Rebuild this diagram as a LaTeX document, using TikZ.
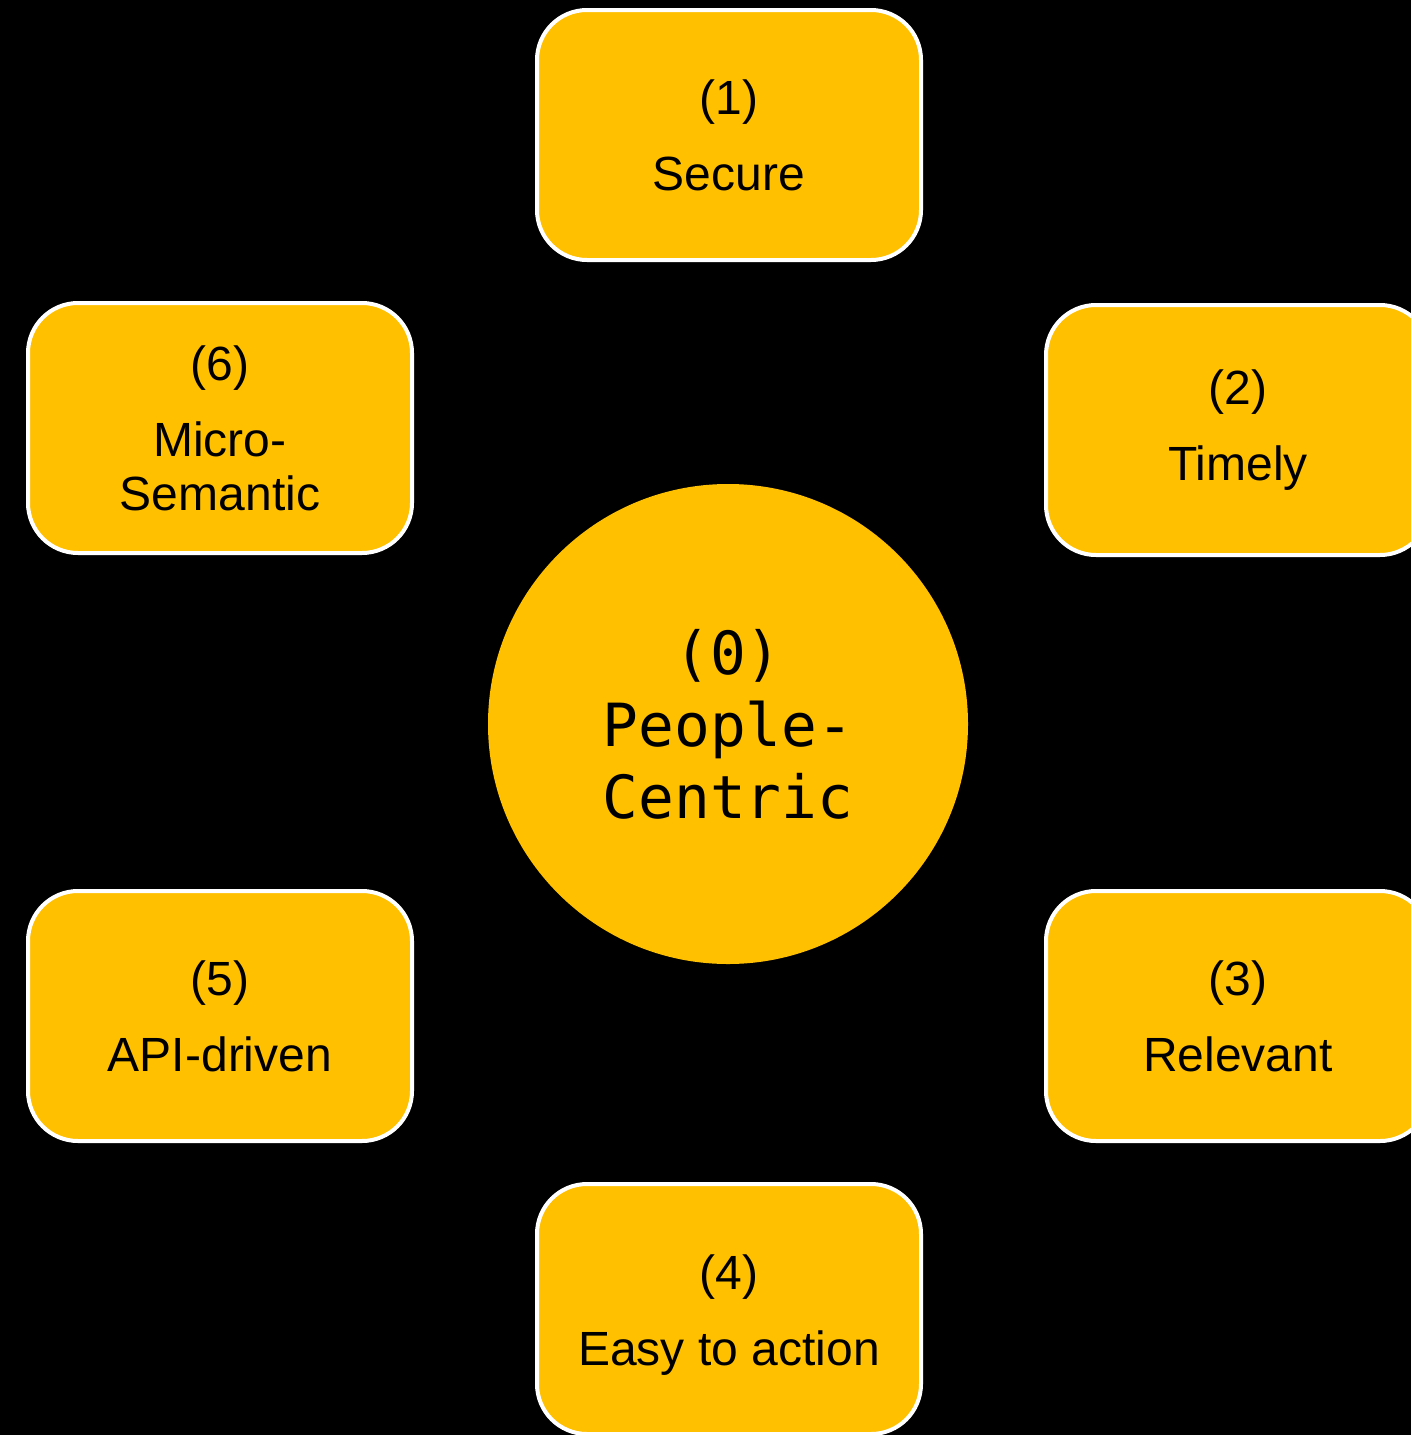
\documentclass[tikz,border=0pt]{standalone}
\usepackage{fontspec}
\setmainfont{Liberation Sans}
\newfontfamily\monof{DejaVu Sans Mono}
\definecolor{gold}{HTML}{FFC000}
\tikzset{
  x=1pt,y=-1pt,
  boxnode/.style={draw=white, line width=4pt, fill=gold, rounded corners=50pt,
    minimum width=384pt, minimum height=250pt, align=center, text=black,
    font=\fontsize{48}{54}\selectfont, inner sep=0pt},
  hub/.style={circle, fill=gold, minimum size=480pt, inner sep=0pt, align=center,
    text=black, font=\monof\fontsize{59.5}{72}\selectfont}
}
\begin{document}
\begin{tikzpicture}
\useasboundingbox (0,0) rectangle (1411,1435);
\clip (0,0) rectangle (1411,1435);
\fill[black] (0,0) rectangle (1411,1435);
\node[hub] (c0) at (728,724) {(0)\\People-\\Centric};
\node[boxnode] (b1) at (729,135) {(1)\\[22pt]Secure};
\node[boxnode] (b2) at (1238,430) {(2)\\[22pt]Timely};
\node[boxnode] (b3) at (1238,1016) {(3)\\[22pt]Relevant};
\node[boxnode] (b4) at (729,1309) {\rule{0pt}{46pt}(4)\\[22pt]Easy to action};
\node[boxnode] (b5) at (220,1016) {(5)\\[22pt]API-driven};
\node[boxnode] (b6) at (220,428) {(6)\\[22pt]Micro-\\Semantic};
\end{tikzpicture}
\end{document}
